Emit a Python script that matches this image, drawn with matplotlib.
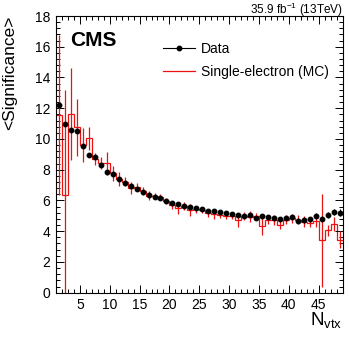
import numpy as np
import matplotlib
matplotlib.use('Agg')
import matplotlib.pyplot as plt
from matplotlib.lines import Line2D
from matplotlib.ticker import MultipleLocator

plt.rcParams['font.family'] = ['Liberation Sans', 'DejaVu Sans']

# bins de Nvtx (largura 1, de 1 a 49)
bin_edges = np.arange(1, 50, 1)
bin_centers = bin_edges[:-1] + 0.5

# dados
data_sig = [12.19, 10.96, 10.59, 10.52, 9.54, 8.94, 8.81, 8.33, 7.87, 7.70,
            7.38, 7.16, 6.96, 6.73, 6.53, 6.38, 6.25, 6.14, 5.99, 5.86,
            5.77, 5.66, 5.57, 5.49, 5.42, 5.34, 5.30, 5.25, 5.17, 5.14,
            5.04, 5.01, 5.08, 4.86, 4.97, 4.93, 4.84, 4.82, 4.84, 4.95,
            4.69, 4.71, 4.77, 5.01, 4.82, 5.06, 5.23, 5.21]
data_err = [0.12, 0.10, 0.08, 0.07, 0.06, 0.05, 0.05, 0.05, 0.04, 0.04,
            0.04, 0.04, 0.04, 0.04, 0.04, 0.04, 0.04, 0.04, 0.04, 0.05,
            0.05, 0.05, 0.05, 0.05, 0.05, 0.06, 0.06, 0.06, 0.07, 0.07,
            0.08, 0.08, 0.09, 0.09, 0.10, 0.10, 0.11, 0.12, 0.12, 0.13,
            0.14, 0.15, 0.16, 0.17, 0.18, 0.19, 0.20, 0.22]

# simulacao single-electron
mc_sig = [11.55, 6.36, 11.65, 10.76, 9.61, 10.04, 8.72, 8.42, 8.42, 7.77,
          7.40, 7.22, 6.82, 6.90, 6.60, 6.30, 6.30, 6.20, 5.95, 5.70,
          5.50, 5.65, 5.38, 5.42, 5.36, 5.20, 5.12, 5.06, 5.00, 4.97,
          4.75, 5.00, 4.95, 4.97, 4.35, 4.75, 4.73, 4.42, 4.75, 4.85,
          4.75, 4.62, 4.55, 4.65, 3.40, 4.05, 4.45, 3.45]
mc_err = [5.20, 6.80, 3.00, 1.85, 1.10, 0.75, 0.40, 0.40, 0.75, 0.50,
          0.45, 0.30, 0.40, 0.25, 0.25, 0.30, 0.20, 0.20, 0.20, 0.25,
          0.35, 0.25, 0.40, 0.25, 0.20, 0.25, 0.30, 0.20, 0.20, 0.20,
          0.45, 0.25, 0.35, 0.20, 0.60, 0.30, 0.30, 0.30, 0.30, 0.30,
          0.30, 0.35, 0.30, 0.40, 3.05, 0.35, 0.45, 0.55]

vermelho = '#ee1111'

fig = plt.figure(figsize=(3.49, 3.37), dpi=100)
ax = fig.add_axes([0.1605, 0.1315, 0.821, 0.821])

# histograma MC + barras de erro (cortadas em zero)
mc = np.array(mc_sig)
me = np.array(mc_err)
ax.stairs(mc, bin_edges, color=vermelho, lw=0.9, baseline=None)
ax.vlines(bin_centers, np.clip(mc - me, 0, None), mc + me, color=vermelho, lw=0.9)

# pontos de dados
ax.errorbar(bin_centers, data_sig, yerr=data_err, fmt='o', color='black',
            ms=3.2, elinewidth=0.8, capsize=0, zorder=5)

ax.set_xlim(1, 49)
ax.set_ylim(0, 18)
ax.xaxis.set_major_locator(MultipleLocator(5))
ax.xaxis.set_minor_locator(MultipleLocator(1))
ax.yaxis.set_major_locator(MultipleLocator(2))
ax.yaxis.set_minor_locator(MultipleLocator(0.4))
ax.set_xticks([5, 10, 15, 20, 25, 30, 35, 40, 45])
ax.tick_params(which='both', direction='in', top=True, right=True, labelsize=10, width=0.7)
ax.tick_params(which='major', length=5.5, pad=4)
ax.tick_params(which='minor', length=2.7)
for s in ax.spines.values():
    s.set_linewidth(0.8)

ax.set_ylabel('<Significance>', fontsize=12.5, ha='right')
ax.yaxis.set_label_coords(-0.135, 1.0)
ax.set_xlabel(r'N$_{\mathregular{vtx}}$', fontsize=13.5, ha='right')
ax.xaxis.set_label_coords(1.0, -0.065)

ax.text(0.05, 0.945, 'CMS', transform=ax.transAxes, fontsize=15, fontweight='bold', va='top')
ax.text(1.0, 1.009, r'35.9 fb$^{\mathregular{-1}}$ (13TeV)', transform=ax.transAxes,
        fontsize=8.5, ha='right', va='baseline')

handles = [Line2D([], [], color='black', marker='o', ms=3.2, lw=0.8),
           Line2D([], [], color=vermelho, lw=0.9)]
ax.legend(handles, ['Data', 'Single-electron (MC)'], loc='upper left',
          bbox_to_anchor=(0.373, 0.907), frameon=False, fontsize=10,
          handlelength=2.3, handletextpad=0.45, borderpad=0, borderaxespad=0,
          labelspacing=0.65)

fig.savefig('out.png', dpi=100)
